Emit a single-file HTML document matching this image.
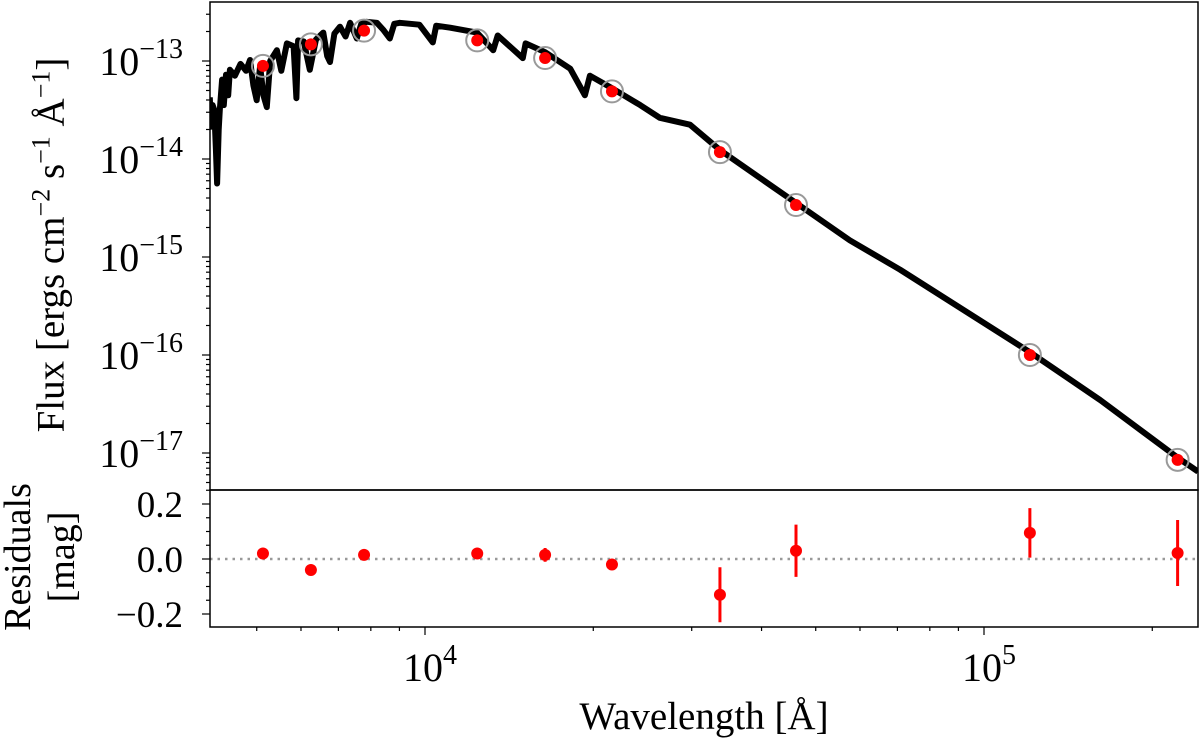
<!DOCTYPE html>
<html><head><meta charset="utf-8"><style>
body{margin:0;background:#fff}
svg{display:block;font-family:"Liberation Serif",serif}
</style></head><body>
<svg id="c" width="1200" height="744" xmlns="http://www.w3.org/2000/svg"></svg>
<script>
const photWave=[5130,6250,7780,12400,16400,21600,33700,46100,120800,222000];
const photLogFlux=[-13.05,-12.83,-12.69,-12.79,-12.97,-13.31,-13.93,-14.47,-16.0,-17.07];
const residVals=[0.02,-0.04,0.015,0.02,0.015,-0.02,-0.13,0.03,0.095,0.022];
const residErr=[0.02,0.02,0.02,0.01,0.025,0.015,0.10,0.095,0.09,0.12];
const specLogWave=[3.615,3.617,3.620,3.623,3.626,3.628,3.631,3.633,3.637,3.640,3.644,3.648,3.651,3.660,3.670,3.680,3.687,3.693,3.699,3.705,3.711,3.717,3.723,3.735,3.743,3.753,3.765,3.770,3.773,3.783,3.794,3.805,3.818,3.825,3.830,3.838,3.848,3.858,3.866,3.878,3.886,3.896,3.914,3.925,3.937,3.945,3.955,3.990,4.014,4.020,4.045,4.093,4.122,4.130,4.175,4.180,4.215,4.260,4.286,4.295,4.335,4.385,4.420,4.474,4.528,4.664,4.760,4.850,5.082,5.208,5.347,5.383];
const specLogFlux=[-13.37,-13.67,-13.45,-13.50,-13.9,-14.25,-13.7,-13.50,-13.19,-13.45,-13.14,-13.35,-13.09,-13.15,-13.03,-13.10,-12.99,-13.25,-13.40,-13.05,-13.35,-13.47,-13.0,-12.89,-13.1,-12.82,-12.85,-13.38,-12.79,-12.80,-13.09,-12.78,-12.71,-12.95,-13.01,-12.72,-12.65,-12.75,-12.61,-12.77,-12.62,-12.60,-12.61,-12.68,-12.77,-12.62,-12.61,-12.63,-12.81,-12.64,-12.66,-12.71,-12.89,-12.74,-12.97,-12.82,-12.91,-13.08,-13.35,-13.15,-13.28,-13.45,-13.58,-13.65,-13.91,-14.45,-14.83,-15.13,-15.97,-16.46,-17.05,-17.19];
const yDecades=[-13,-14,-15,-16,-17];
const xDecades=[4,5];
const residTicks=[0.2,0.0,-0.2];

const L=210,R=1198,T=2,MB=490,RB=627;
const xs=lw=>425+(lw-4)*559;
const X=w=>xs(Math.log10(w));
const Y=lf=>61+(-13-lf)*98;
const YR=v=>559-v*275;
const svg=document.getElementById('c');
const NS='http://www.w3.org/2000/svg';
function mk(tag,attrs,parent){const e=document.createElementNS(NS,tag);for(const k in attrs)e.setAttribute(k,attrs[k]);(parent||svg).appendChild(e);return e;}

let d='';
specLogWave.forEach((lw,i)=>{d+=(i?'L':'M')+xs(lw).toFixed(1)+' '+Y(specLogFlux[i]).toFixed(1);});
const clipDef=mk('clipPath',{id:'cp'});mk('rect',{x:L,y:T,width:R-L,height:MB-T},clipDef);
const sp=mk('path',{d:d,fill:'none',stroke:'#000','stroke-width':6,'stroke-linejoin':'round','clip-path':'url(#cp)'});



photWave.forEach((w,i)=>{
 const g=mk('g',{});
 
 
 mk('circle',{cx:X(w),cy:Y(photLogFlux[i]),r:11,fill:'none',stroke:'#999','stroke-width':2},g);
 mk('circle',{cx:X(w),cy:Y(photLogFlux[i]),r:6,fill:'#f00'},g);
});
mk('line',{x1:L,x2:R,y1:YR(0),y2:YR(0),stroke:'#999','stroke-width':2.5,'stroke-dasharray':'2.5 5'});
photWave.forEach((w,i)=>{
 const g=mk('g',{});
 
 
 mk('line',{x1:X(w),x2:X(w),y1:YR(residVals[i]+residErr[i]),y2:YR(residVals[i]-residErr[i]),stroke:'#f00','stroke-width':3},g);
 mk('circle',{cx:X(w),cy:YR(residVals[i]),r:6,fill:'#f00'},g);
});
const f1=mk('rect',{x:L,y:T,width:R-L,height:MB-T,fill:'none',stroke:'#000','stroke-width':1.5});


const f2=mk('rect',{x:L,y:MB,width:R-L,height:RB-MB,fill:'none',stroke:'#000','stroke-width':1.5});



for(let dec=-18;dec<=-12;dec++){
 for(let m=1;m<10;m++){
  const yy=Y(dec+Math.log10(m));
  if(yy<T||yy>MB)continue;
  mk('line',{x1:L,x2:L-(m==1?8:4),y1:yy,y2:yy,stroke:'#000','stroke-width':1.2});
 }
}
yDecades.forEach(dc=>{
 const t=mk('text',{x:183,y:Y(dc)+14,'font-size':40,'text-anchor':'end'});
 
 
 t.innerHTML='10<tspan dy="-17" font-size="28">−'+(-dc)+'</tspan>';
});
for(let v=-0.25;v<=0.25;v+=0.05){
 const yy=YR(v);if(yy<MB||yy>RB)continue;
 const major=Math.abs(Math.round(v*100)%20)==0;
 mk('line',{x1:L,x2:L-(major?8:4),y1:yy,y2:yy,stroke:'#000','stroke-width':1.2});
}
residTicks.forEach(v=>{
 const t=mk('text',{x:183,y:YR(v)+13,'font-size':37,'text-anchor':'end'});
 
 
 t.textContent=(v<0?'−':'')+Math.abs(v).toFixed(1);
});
for(let dec=3;dec<=5;dec++){
 for(let m=1;m<10;m++){
  const xx=xs(dec+Math.log10(m));
  if(xx<L||xx>R)continue;
  mk('line',{x1:xx,x2:xx,y1:RB,y2:RB+(m==1?8:4),stroke:'#000','stroke-width':1.2});
 }
}
xDecades.forEach(dc=>{
 const t=mk('text',{x:xs(dc)+5,y:681,'font-size':40,'text-anchor':'middle'});
 
 
 t.innerHTML='10<tspan dy="-17" font-size="28">'+dc+'</tspan>';
});
</script>
<div style="position:absolute;left:0;top:0;width:1200px;height:744px;pointer-events:none;font-family:'Liberation Serif',serif">
 <div style="position:absolute;left:704px;top:694px;transform:translateX(-50%);font-size:39px;white-space:nowrap">Wavelength [Å]</div>
 <div style="position:absolute;left:50px;top:245px;transform:translate(-50%,-50%) rotate(-90deg);font-size:39px;white-space:nowrap">Flux [ergs cm<sup style="font-size:26px">−2</sup> s<sup style="font-size:26px">−1</sup> Å<sup style="font-size:26px">−1</sup>]</div>
 <div style="position:absolute;left:40px;top:557px;transform:translate(-50%,-50%) rotate(-90deg);font-size:38px;white-space:nowrap;text-align:center;line-height:44px">Residuals<br>[mag]</div>
</div>
</body></html>
